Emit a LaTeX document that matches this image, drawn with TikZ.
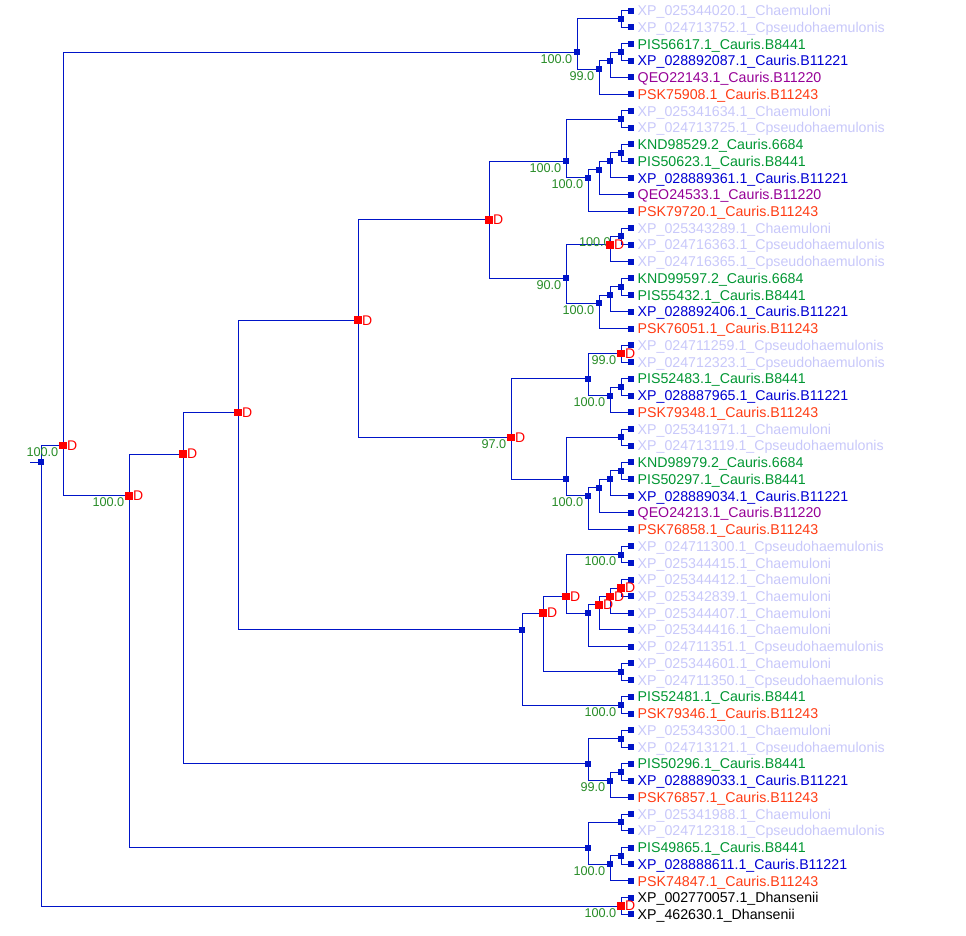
\documentclass[tikz,border=0pt]{standalone}
\usepackage{fontspec}
\setmainfont{Liberation Sans}
\usetikzlibrary{positioning,backgrounds}
\definecolor{treeblue}{RGB}{0,20,200}
\definecolor{dupred}{RGB}{255,0,0}
\definecolor{bootgreen}{RGB}{40,140,40}
\definecolor{cpale}{RGB}{200,200,250}
\definecolor{cgreen}{RGB}{0,150,50}
\definecolor{cblue}{RGB}{0,0,210}
\definecolor{cpurple}{RGB}{150,0,150}
\definecolor{corange}{RGB}{255,60,20}

\begin{document}
\begin{tikzpicture}[x=1pt,y=-16.74pt,
  branch/.style={draw=treeblue,line width=1pt},
  spec/.style={fill=treeblue,minimum size=6pt,inner sep=0pt},
  dup/.style={fill=dupred,minimum size=7.5pt,inner sep=0pt,label distance=3.5pt,
    label={[text=dupred,inner sep=0pt,font=\fontsize{14}{16}\selectfont]east:D}},
  leaf/.style={anchor=base west,inner sep=0pt,font=\fontsize{14.2}{16}\selectfont},
  boot/.style={anchor=base east,inner sep=0pt,text=bootgreen,font=\fontsize{12.7}{14}\selectfont}]
\useasboundingbox (0,-0.6272) rectangle (966,55.227);

% leaves
\foreach \lab/\col [count=\i from 0] in {
  XP\_025344020.1\_Chaemuloni/cpale,
  XP\_024713752.1\_Cpseudohaemulonis/cpale,
  PIS56617.1\_Cauris.B8441/cgreen,
  XP\_028892087.1\_Cauris.B11221/cblue,
  QEO22143.1\_Cauris.B11220/cpurple,
  PSK75908.1\_Cauris.B11243/corange,
  XP\_025341634.1\_Chaemuloni/cpale,
  XP\_024713725.1\_Cpseudohaemulonis/cpale,
  KND98529.2\_Cauris.6684/cgreen,
  PIS50623.1\_Cauris.B8441/cgreen,
  XP\_028889361.1\_Cauris.B11221/cblue,
  QEO24533.1\_Cauris.B11220/cpurple,
  PSK79720.1\_Cauris.B11243/corange,
  XP\_025343289.1\_Chaemuloni/cpale,
  XP\_024716363.1\_Cpseudohaemulonis/cpale,
  XP\_024716365.1\_Cpseudohaemulonis/cpale,
  KND99597.2\_Cauris.6684/cgreen,
  PIS55432.1\_Cauris.B8441/cgreen,
  XP\_028892406.1\_Cauris.B11221/cblue,
  PSK76051.1\_Cauris.B11243/corange,
  XP\_024711259.1\_Cpseudohaemulonis/cpale,
  XP\_024712323.1\_Cpseudohaemulonis/cpale,
  PIS52483.1\_Cauris.B8441/cgreen,
  XP\_028887965.1\_Cauris.B11221/cblue,
  PSK79348.1\_Cauris.B11243/corange,
  XP\_025341971.1\_Chaemuloni/cpale,
  XP\_024713119.1\_Cpseudohaemulonis/cpale,
  KND98979.2\_Cauris.6684/cgreen,
  PIS50297.1\_Cauris.B8441/cgreen,
  XP\_028889034.1\_Cauris.B11221/cblue,
  QEO24213.1\_Cauris.B11220/cpurple,
  PSK76858.1\_Cauris.B11243/corange,
  XP\_024711300.1\_Cpseudohaemulonis/cpale,
  XP\_025344415.1\_Chaemuloni/cpale,
  XP\_025344412.1\_Chaemuloni/cpale,
  XP\_025342839.1\_Chaemuloni/cpale,
  XP\_025344407.1\_Chaemuloni/cpale,
  XP\_025344416.1\_Chaemuloni/cpale,
  XP\_024711351.1\_Cpseudohaemulonis/cpale,
  XP\_025344601.1\_Chaemuloni/cpale,
  XP\_024711350.1\_Cpseudohaemulonis/cpale,
  PIS52481.1\_Cauris.B8441/cgreen,
  PSK79346.1\_Cauris.B11243/corange,
  XP\_025343300.1\_Chaemuloni/cpale,
  XP\_024713121.1\_Cpseudohaemulonis/cpale,
  PIS50296.1\_Cauris.B8441/cgreen,
  XP\_028889033.1\_Cauris.B11221/cblue,
  PSK76857.1\_Cauris.B11243/corange,
  XP\_025341988.1\_Chaemuloni/cpale,
  XP\_024712318.1\_Cpseudohaemulonis/cpale,
  PIS49865.1\_Cauris.B8441/cgreen,
  XP\_028888611.1\_Cauris.B11221/cblue,
  PSK74847.1\_Cauris.B11243/corange,
  XP\_002770057.1\_Dhansenii/black,
  XP\_462630.1\_Dhansenii/black} {
  \node[spec] (l\i) at (631,\i) {};
  \node[leaf,text=\col] (t\i) at ([xshift=6.5pt,yshift=-5.1pt]l\i.center) {\lab};
}

% inner nodes (x, mean leaf index)
\coordinate (stub) at (30,27);
\foreach \nd/\x/\y/\s in {R/41/27/spec, N1/63/26/dup, N2/129/29/dup, N3/183/26.5/dup,
  N4/238/24/dup, N5/358/18.5/dup, N7/489/12.5/dup, N8/511/25.5/dup, N6/522/37/spec,
  T/577/2.5/spec, T1/621/0.5/spec, T2/599/3.5/spec, T3/610/3/spec, T4/621/2.5/spec,
  N9/566/9/spec, N9a/621/6.5/spec, N11/588/10/spec, N12/599/9.5/spec, N13/610/9/spec, N13a/621/8.5/spec,
  N10/566/16/spec, N14/610/14/dup, N14a/621/13.5/spec, N15/599/17.5/spec, N16/610/17/spec, N16a/621/16.5/spec,
  N17/588/22/spec, N17a/621/20.5/dup, N19/610/23/spec, N19a/621/22.5/spec,
  N18/566/28/spec, N18a/621/25.5/spec, N20/588/29/spec, N21/599/28.5/spec, N22/610/28/spec, N22a/621/27.5/spec,
  N23/543/36/dup, N24/566/35/dup, N24a/621/32.5/spec, N25/588/36/spec, N26/599/35.5/dup,
  N27/610/35/dup, N28/621/34.5/dup, N23a/621/39.5/spec, N6a/621/41.5/spec,
  M/588/45/spec, Ma/621/43.5/spec, Mb/610/46/spec, Mc/621/45.5/spec,
  K/588/50/spec, Ka/621/48.5/spec, Kb/610/51/spec, Kc/621/50.5/spec,
  Dh/621/53.5/dup}
  \node[\s] (\nd) at (\x,\y) {};

% support values
\foreach \nd/\bv in {N1/100.0, N2/100.0, T/100.0, T2/99.0, N9/100.0, N11/100.0, N10/90.0,
  N15/100.0, N17a/99.0, N19/100.0, N8/97.0, N20/100.0, N24a/100.0, N6a/100.0,
  Mb/99.0, Kb/100.0, Dh/100.0}
  \node[boot] (b\nd) at ([xshift=-4.5pt,yshift=-11pt]\nd.center) {\bv};

% branches
\begin{scope}[on background layer]
\foreach \p/\c in {stub/R, R/N1, R/Dh, N1/T, N1/N2, T/T1, T/T2, T1/l0, T1/l1,
  T2/T3, T2/l5, T3/T4, T3/l4, T4/l2, T4/l3,
  N2/N3, N2/K, N3/N4, N3/M, N4/N5, N4/N6, N5/N7, N5/N8,
  N7/N9, N7/N10, N9/N9a, N9/N11, N9a/l6, N9a/l7, N11/N12, N11/l12,
  N12/N13, N12/l11, N13/N13a, N13/l10, N13a/l8, N13a/l9,
  N10/N14, N10/N15, N14/N14a, N14/l15, N14a/l13, N14a/l14,
  N15/N16, N15/l19, N16/N16a, N16/l18, N16a/l16, N16a/l17,
  N8/N17, N8/N18, N17/N17a, N17/N19, N17a/l20, N17a/l21, N19/N19a, N19/l24, N19a/l22, N19a/l23,
  N18/N18a, N18/N20, N18a/l25, N18a/l26, N20/N21, N20/l31, N21/N22, N21/l30,
  N22/N22a, N22/l29, N22a/l27, N22a/l28,
  N6/N23, N6/N6a, N23/N24, N23/N23a, N24/N24a, N24/N25, N24a/l32, N24a/l33,
  N25/N26, N25/l38, N26/N27, N26/l37, N27/N28, N27/l36, N28/l34, N28/l35,
  N23a/l39, N23a/l40, N6a/l41, N6a/l42,
  M/Ma, M/Mb, Ma/l43, Ma/l44, Mb/Mc, Mb/l47, Mc/l45, Mc/l46,
  K/Ka, K/Kb, Ka/l48, Ka/l49, Kb/Kc, Kb/l52, Kc/l50, Kc/l51,
  Dh/l53, Dh/l54}
  \draw[branch] (\p.center) |- (\c.center);
\node[boot] (bN14) at ([xshift=1pt,yshift=-1.5pt]N14.center) {100.0};
\end{scope}
\end{tikzpicture}
\end{document}
